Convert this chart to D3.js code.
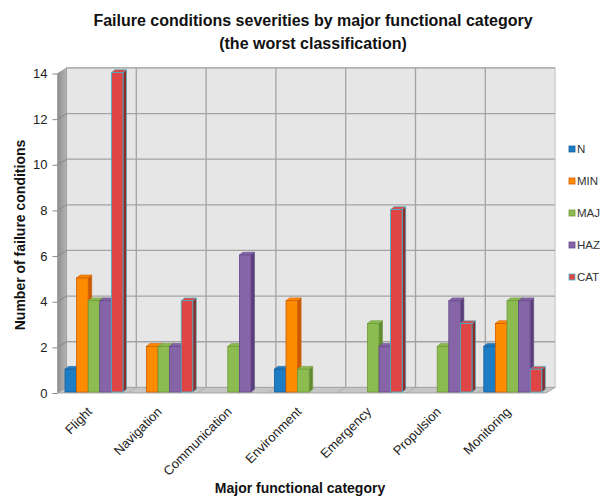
<!DOCTYPE html>
<html lang="en">
	<head>
		<meta charset="utf-8">
		<title>Failure conditions severities</title>
		<script src="https://d3js.org/d3.v7.min.js"></script>
		<style>
			body { margin: 0; background: #fff; }
			text { font-family: Arial, "Liberation Sans", sans-serif; }
		</style>
	</head>
	<body>
		<script type="text/javascript">
			// data
			var categories = ["Flight", "Navigation", "Communication", "Environment", "Emergency", "Propulsion", "Monitoring"]
			var seriesNames = ["N", "MIN", "MAJ", "HAZ", "CAT"]
			var valuesN   = [1, 0, 0, 1, 0, 0, 2]
			var valuesMIN = [5, 2, 0, 4, 0, 0, 3]
			var valuesMAJ = [4, 2, 2, 1, 3, 2, 4]
			var valuesHAZ = [4, 2, 6, 0, 2, 4, 4]
			var valuesCAT = [14, 4, 0, 0, 8, 3, 1]
			var yTicks = [0, 2, 4, 6, 8, 10, 12, 14]

			var seriesValues = [valuesN, valuesMIN, valuesMAJ, valuesHAZ, valuesCAT]

			// colours: front, side, outline
			var colors = {
				N:   {fill: "#1C7CC4", side: "#14578a", stroke: "#1a5f99"},
				MIN: {fill: "#FF8C00", side: "#C85A00", stroke: "#D25A00"},
				MAJ: {fill: "#8CBB4F", side: "#5F8A2E", stroke: "#6f9a3c"},
				HAZ: {fill: "#8564A8", side: "#5A3F7A", stroke: "#66498a"},
				CAT: {fill: "#E04545", side: "#8E2B2B", stroke: "#3FB3C8"}
			}

			// window size setup
			var w = 613
			var h = 496
			var x0 = 57.5
			var cw = 69.8
			var depth = {dx: 9, dy: -5.6}     // wall depth
			var barOff = {dx: 1.6, dy: -1}     // bars sit a bit behind the front
			var barDepth = {dx: 3.5, dy: -2.8} // bar thickness
			var gap = 11.8

			// scales
			var xScale = d3.scaleBand()
							.domain(categories)
							.range([x0, x0 + cw * categories.length])
							.padding(0)

			var sScale = d3.scaleBand()
							.domain(seriesNames)
							.range([gap / 2, cw - gap / 2])
							.padding(0)

			var yScale = d3.scaleLinear()
							.domain([0, 14])
							.range([393, 73.5])

			var xL = x0, xR = x0 + cw * categories.length
			var yB = yScale(0), yT = yScale(14)

			// create SVG
			var svg = d3.select("body")
						.append("svg")
						.attr("width", w)
						.attr("height", h)

			function pts(a){ return a.map(function(p){ return p.join(",") }).join(" ") }

			// gradient for the left wall
			var grad = svg.append("defs")
							.append("linearGradient")
							.attr("id", "sideWall")
							.attr("x1", "0").attr("x2", "1").attr("y1", "0").attr("y2", "0")
			grad.append("stop").attr("offset", "0").attr("stop-color", "#8e8e8e")
			grad.append("stop").attr("offset", "1").attr("stop-color", "#b4b4b4")

			// back wall
			svg.append("rect")
				.attr("x", xL + depth.dx)
				.attr("y", yT + depth.dy)
				.attr("width", xR - xL)
				.attr("height", yB - yT)
				.attr("fill", "#E6E6E6")
				.attr("stroke", "#C4C4C4")
				.attr("stroke-width", 1)

			// left wall
			svg.append("polygon")
				.attr("points", pts([[xL, yT], [xL + depth.dx, yT + depth.dy], [xL + depth.dx, yB + depth.dy], [xL, yB]]))
				.attr("fill", "url(#sideWall)")
				.attr("stroke", "#8f8f8f")
				.attr("stroke-width", 0.6)

			// floor
			svg.append("polygon")
				.attr("points", pts([[xL, yB], [xR, yB], [xR + depth.dx, yB + depth.dy], [xL + depth.dx, yB + depth.dy]]))
				.attr("fill", "#C6C6C6")
				.attr("stroke", "#9a9a9a")
				.attr("stroke-width", 0.8)

			// horizontal grid lines (back wall + left wall)
			svg.append("g")
				.selectAll("line")
				.data(yTicks.slice(1))
				.enter()
				.append("line")
				.attr("x1", xL + depth.dx)
				.attr("x2", xR + depth.dx)
				.attr("y1", function(d){ return yScale(d) + depth.dy })
				.attr("y2", function(d){ return yScale(d) + depth.dy })
				.attr("stroke", "#A3A3A3")
				.attr("stroke-width", 1.3)

			svg.append("g")
				.selectAll("line")
				.data(yTicks.slice(1, -1))
				.enter()
				.append("line")
				.attr("x1", xL)
				.attr("x2", xL + depth.dx)
				.attr("y1", function(d){ return yScale(d) })
				.attr("y2", function(d){ return yScale(d) + depth.dy })
				.attr("stroke", "#808080")
				.attr("stroke-width", 0.8)

			// vertical grid lines at category boundaries + floor dividers
			var bounds = categories.slice(1).map(function(c){ return xScale(c) })
			svg.append("g")
				.selectAll("line")
				.data(bounds)
				.enter()
				.append("line")
				.attr("x1", function(d){ return d + depth.dx })
				.attr("x2", function(d){ return d + depth.dx })
				.attr("y1", yT + depth.dy)
				.attr("y2", yB + depth.dy)
				.attr("stroke", "#A3A3A3")
				.attr("stroke-width", 1.3)

			svg.append("g")
				.selectAll("line")
				.data(bounds)
				.enter()
				.append("line")
				.attr("x1", function(d){ return d })
				.attr("x2", function(d){ return d + depth.dx })
				.attr("y1", yB)
				.attr("y2", yB + depth.dy)
				.attr("stroke", "#a8a8a8")
				.attr("stroke-width", 0.8)

			// bars
			var bars = []
			categories.forEach(function(c, i){
				seriesNames.forEach(function(s, j){
					var v = seriesValues[j][i]
					if(v > 0) bars.push({cat: c, ser: s, value: v})
				})
			})

			var bw = sScale.bandwidth()
			var barG = svg.append("g")
							.selectAll("g")
							.data(bars)
							.enter()
							.append("g")

			barG.each(function(d){
				var g = d3.select(this)
				var c = colors[d.ser]
				var bx = xScale(d.cat) + sScale(d.ser) + barOff.dx
				var top = yScale(d.value) + barOff.dy
				var bot = yScale(0) + barOff.dy

				g.append("polygon")
					.attr("points", pts([[bx + bw, top], [bx + bw + barDepth.dx, top + barDepth.dy], [bx + bw + barDepth.dx, bot + barDepth.dy], [bx + bw, bot]]))
					.attr("fill", c.side)
					.attr("stroke", c.stroke)
					.attr("stroke-width", 0.6)

				g.append("polygon")
					.attr("points", pts([[bx, top], [bx + barDepth.dx, top + barDepth.dy], [bx + bw + barDepth.dx, top + barDepth.dy], [bx + bw, top]]))
					.attr("fill", c.fill)
					.attr("stroke", c.stroke)
					.attr("stroke-width", 0.6)

				g.append("rect")
					.attr("x", bx)
					.attr("y", top)
					.attr("width", bw)
					.attr("height", bot - top)
					.attr("fill", c.fill)
					.attr("stroke", c.stroke)
					.attr("stroke-width", 0.8)
			})

			// y axis
			var yAxis = d3.axisLeft()
							.scale(yScale)
							.tickValues(yTicks)
							.tickSize(5)
							.tickPadding(5)

			var yAxisG = svg.append("g")
				.attr("transform", "translate(" + xL + ",0)")
				.call(yAxis)
			yAxisG.select(".domain").remove()
			yAxisG.selectAll("line").attr("stroke", "#8a8a8a")
			yAxisG.selectAll("text")
				.attr("font-size", 13)
				.attr("font-family", "Arial, 'Liberation Sans', sans-serif")
				.attr("fill", "#222")

			// x labels
			svg.append("g")
				.selectAll("text")
				.data(categories)
				.enter()
				.append("text")
				.text(function(d){ return d })
				.attr("transform", function(d){
					return "translate(" + (xScale(d) + cw / 2 - 5) + ",407) rotate(-45)"
				})
				.attr("text-anchor", "end")
				.attr("dy", "0.6em")
				.attr("font-size", 13)
				.attr("fill", "#222")

			// titles
			svg.append("text")
				.attr("x", 313)
				.attr("y", 26)
				.attr("text-anchor", "middle")
				.attr("font-size", 16)
				.attr("font-weight", "bold")
				.attr("fill", "#111")
				.text("Failure conditions severities by major functional category")

			svg.append("text")
				.attr("x", 313)
				.attr("y", 49)
				.attr("text-anchor", "middle")
				.attr("font-size", 16)
				.attr("font-weight", "bold")
				.attr("fill", "#111")
				.text("(the worst classification)")

			svg.append("text")
				.attr("x", 300)
				.attr("y", 493)
				.attr("text-anchor", "middle")
				.attr("font-size", 14)
				.attr("font-weight", "bold")
				.attr("fill", "#111")
				.text("Major functional category")

			svg.append("text")
				.attr("transform", "translate(25,235) rotate(-90)")
				.attr("text-anchor", "middle")
				.attr("font-size", 14)
				.attr("font-weight", "bold")
				.attr("fill", "#111")
				.text("Number of failure conditions")

			// legend
			var legend = svg.append("g")
							.selectAll("g")
							.data(seriesNames)
							.enter()
							.append("g")
							.attr("transform", function(d, i){ return "translate(569," + (149 + i * 32) + ")" })

			legend.append("rect")
				.attr("x", 0)
				.attr("y", -3)
				.attr("width", 6)
				.attr("height", 6)
				.attr("fill", function(d){ return colors[d].fill })
				.attr("stroke", function(d){ return colors[d].stroke })
				.attr("stroke-width", 0.8)

			legend.append("text")
				.attr("x", 8)
				.attr("y", 0)
				.attr("dy", "0.35em")
				.attr("font-size", 11.5)
				.attr("fill", "#333")
				.text(function(d){ return d })
		</script>
	</body>
</html>
